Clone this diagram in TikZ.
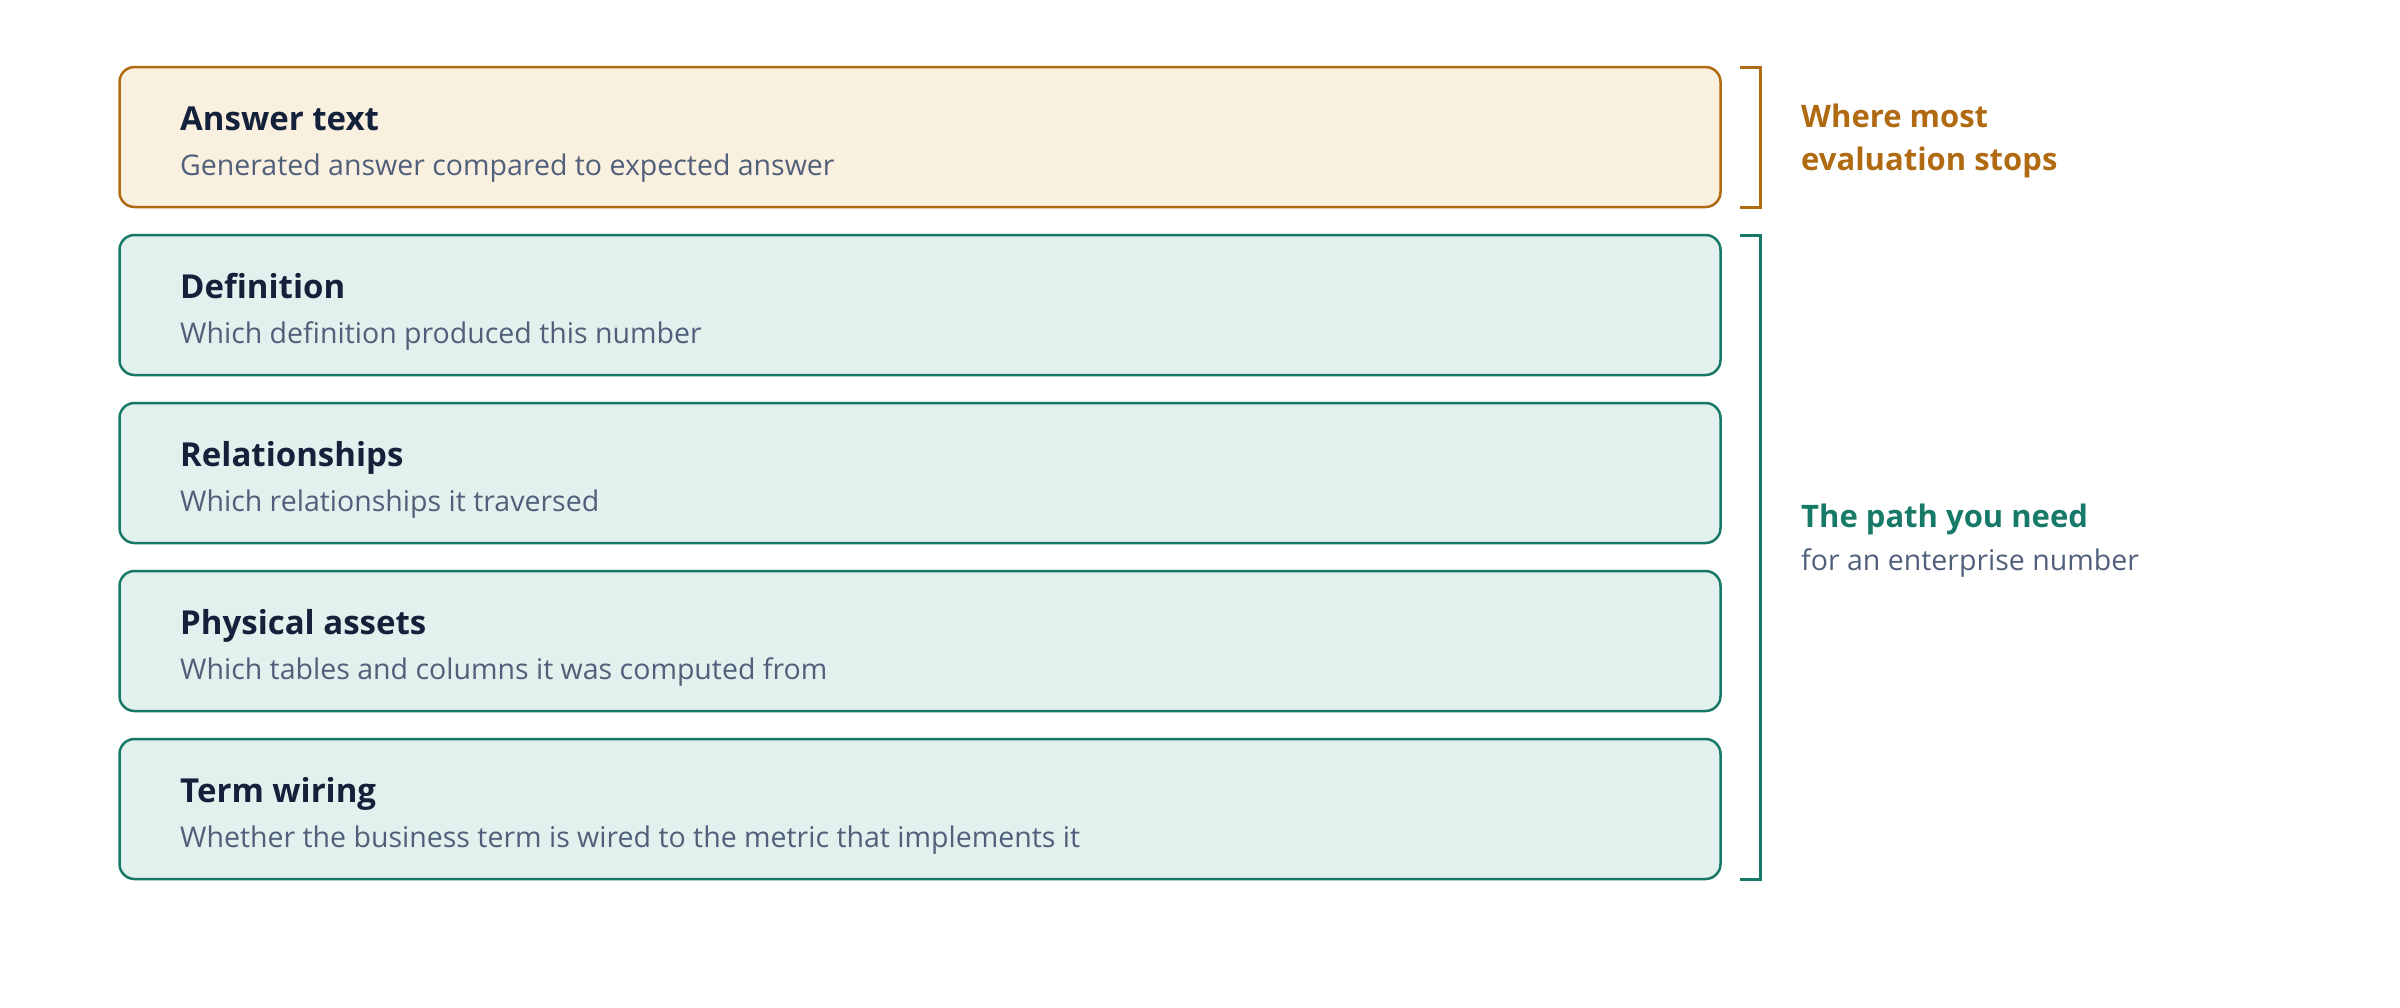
\documentclass[tikz,border=0pt]{standalone}
\usepackage{fontspec}
\setmainfont{Open Sans}
\definecolor{ochre}{HTML}{B06A12}
\definecolor{ochrefill}{HTML}{FAF0DF}
\definecolor{teal}{HTML}{177A68}
\definecolor{tealfill}{HTML}{E2F1EE}
\definecolor{titlecol}{HTML}{14213A}
\definecolor{subcol}{HTML}{50607A}
\tikzset{
  layerbox/.style={draw, line width=2.5pt, rounded corners=15pt, minimum width=1601pt, minimum height=140pt, inner sep=0pt},
  answerbox/.style={layerbox, draw=ochre, fill=ochrefill},
  pathbox/.style={layerbox, draw=teal, fill=tealfill},
  ttl/.style={anchor=base west, inner sep=0pt, text=titlecol, font=\fontsize{33}{38}\selectfont\bfseries},
  sub/.style={anchor=base west, inner sep=0pt, text=subcol, font=\fontsize{28.5}{32}\selectfont},
  bracket/.style={line width=3pt, miter limit=10},
  sidettl/.style={anchor=base west, inner sep=0pt, font=\fontsize{31}{36}\selectfont\bfseries},
}
\begin{document}
\begin{tikzpicture}[x=1pt,y=-1pt]
\useasboundingbox (0,0) rectangle (2400,1007);
% boxes
\node[answerbox] (b1) at (920,137) {};
\node[pathbox] (b2) at (920,305) {};
\node[pathbox] (b3) at (920,473) {};
\node[pathbox] (b4) at (920,641) {};
\node[pathbox] (b5) at (920,809) {};
% texts
\node[ttl] (t1) at (180,130) {Answer text};
\node[sub] (s1) at (180,175) {Generated answer compared to expected answer};
\node[ttl] (t2) at (180,298) {Definition};
\node[sub] (s2) at (180,343) {Which definition produced this number};
\node[ttl] (t3) at (180,466) {Relationships};
\node[sub] (s3) at (180,511) {Which relationships it traversed};
\node[ttl] (t4) at (180,634) {Physical assets};
\node[sub] (s4) at (180,679) {Which tables and columns it was computed from};
\node[ttl] (t5) at (180,802) {Term wiring};
\node[sub] (s5) at (180,847) {Whether the business term is wired to the metric that implements it};
% brackets
\coordinate (o1) at (1740,67);
\coordinate (o2) at (1760,67);
\coordinate (o3) at (1760,207);
\coordinate (o4) at (1740,207);
\draw[bracket, ochre] (o1) -- (o2) -- (o3) -- (o4);
\coordinate (g1) at (1740,235);
\coordinate (g2) at (1760,235);
\coordinate (g3) at (1760,879);
\coordinate (g4) at (1740,879);
\draw[bracket, teal] (g1) -- (g2) -- (g3) -- (g4);
% side labels
\node[sidettl, text=ochre] (w1) at (1801,127) {Where most};
\node[sidettl, text=ochre] (w2) at (1801,170) {evaluation stops};
\node[sidettl, text=teal] (p1) at (1801,527) {The path you need};
\node[sub] (p2) at (1801,570) {for an enterprise number};
\end{tikzpicture}
\end{document}
